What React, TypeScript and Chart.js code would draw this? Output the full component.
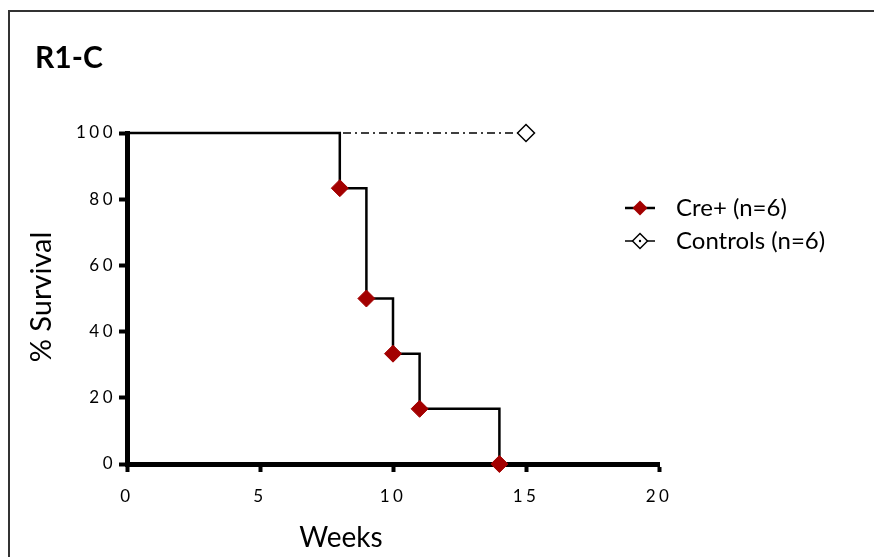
import React, { useEffect, useRef } from 'react';
import { Chart, registerables } from 'chart.js';

Chart.register(...registerables);

const chartTitle = 'R1-C';
const xTitle = 'Weeks';
const yTitle = '% Survival';
const seriesNames = ['Cre+ (n=6)', 'Controls (n=6)'];
const creWeeks = [0, 8, 9, 10, 11, 14];
const creSurvival = [100, 83.33, 50, 33.33, 16.67, 0];
const ctrlWeeks = [0, 15];
const ctrlSurvival = [100, 100];
const xTickValues = [0, 5, 10, 15, 20];
const yTickValues = [0, 20, 40, 60, 80, 100];

const RED = '#A30000';
const FONT = 'Lato, "Open Sans", sans-serif';

export default function App() {
  const ref = useRef<HTMLCanvasElement | null>(null);

  useEffect(() => {
    document.body.style.margin = '0';
    document.body.style.overflow = 'hidden';
    const canvas = ref.current;
    if (!canvas) return;

    const textPlugin = {
      id: 'customText',
      beforeDraw(chart: any) {
        (chart.ctx as any).letterSpacing = '3.5px';
      },
      afterDraw(chart: any) {
        const ctx = chart.ctx as CanvasRenderingContext2D;
        ctx.save();
        (ctx as any).letterSpacing = '0px';
        // frame
        ctx.strokeStyle = '#333';
        ctx.lineWidth = 2;
        ctx.strokeRect(9, 11, 1000, 1000);
        // title
        ctx.fillStyle = '#000';
        ctx.font = `bold 30px ${FONT}`;
        ctx.textAlign = 'left';
        ctx.textBaseline = 'alphabetic';
        ctx.fillText(chartTitle, 35, 68);
        // axis titles
        ctx.font = `28px ${FONT}`;
        ctx.textAlign = 'center';
        ctx.textBaseline = 'middle';
        ctx.fillText(xTitle, 341, 538);
        ctx.save();
        ctx.translate(42, 297);
        ctx.rotate(-Math.PI / 2);
        ctx.font = `29px ${FONT}`;
        ctx.fillText(yTitle, 0, 0);
        ctx.restore();
        // legend
        const rows = [208, 241];
        const lx1 = 625, lx2 = 655, mx = 640, r = 7.5;
        // Cre+
        ctx.strokeStyle = '#000';
        ctx.lineWidth = 2.5;
        ctx.beginPath();
        ctx.moveTo(lx1, rows[0]);
        ctx.lineTo(lx2, rows[0]);
        ctx.stroke();
        ctx.fillStyle = RED;
        ctx.beginPath();
        ctx.moveTo(mx - r, rows[0]);
        ctx.lineTo(mx, rows[0] - r);
        ctx.lineTo(mx + r, rows[0]);
        ctx.lineTo(mx, rows[0] + r);
        ctx.closePath();
        ctx.fill();
        // Controls
        ctx.lineWidth = 1.5;
        ctx.beginPath();
        ctx.moveTo(lx1, rows[1]);
        ctx.lineTo(lx2, rows[1]);
        ctx.stroke();
        ctx.fillStyle = '#fff';
        ctx.beginPath();
        ctx.moveTo(mx - r, rows[1]);
        ctx.lineTo(mx, rows[1] - r);
        ctx.lineTo(mx + r, rows[1]);
        ctx.lineTo(mx, rows[1] + r);
        ctx.closePath();
        ctx.fill();
        ctx.stroke();
        ctx.fillStyle = '#000';
        ctx.beginPath();
        ctx.arc(mx, rows[1], 1.2, 0, Math.PI * 2);
        ctx.fill();
        // legend text
        ctx.font = `24px ${FONT}`;
        ctx.textAlign = 'left';
        ctx.textBaseline = 'middle';
        ctx.fillText(seriesNames[0], 676, rows[0]);
        ctx.fillText(seriesNames[1], 676, rows[1]);
        ctx.restore();
      },
    };

    const chart = new Chart(canvas, {
      type: 'line',
      data: {
        datasets: [
          {
            label: seriesNames[0],
            data: creWeeks.map((x, i) => ({ x, y: creSurvival[i] })),
            borderColor: '#000',
            borderWidth: 2.5,
            stepped: 'before',
            pointStyle: 'rectRot',
            pointRadius: creWeeks.map((_, i) => (i === 0 ? 0 : 8.5)),
            pointHoverRadius: creWeeks.map((_, i) => (i === 0 ? 0 : 8.5)),
            pointBackgroundColor: RED,
            pointBorderColor: RED,
            pointBorderWidth: 1,
            clip: false,
          } as any,
          {
            label: seriesNames[1],
            data: ctrlWeeks.map((x, i) => ({ x, y: ctrlSurvival[i] })),
            borderColor: '#000',
            borderWidth: 1.5,
            borderDash: [8, 4, 2, 4],
            pointStyle: 'rectRot',
            pointRadius: ctrlWeeks.map((_, i) => (i === 0 ? 0 : 8.5)),
            pointHoverRadius: ctrlWeeks.map((_, i) => (i === 0 ? 0 : 8.5)),
            pointBackgroundColor: '#fff',
            pointBorderColor: '#000',
            pointBorderWidth: 1.5,
            clip: false,
          } as any,
        ],
      },
      options: {
        responsive: false,
        animation: false,
        events: [],
        layout: { padding: { left: 0, right: 215, top: 133, bottom: 0 } },
        plugins: {
          legend: { display: false },
          title: { display: false },
          tooltip: { enabled: false },
        },
        scales: {
          x: {
            type: 'linear',
            min: 0,
            max: 20,
            afterBuildTicks: (s: any) => {
              s.ticks = xTickValues.map((v) => ({ value: v }));
            },
            afterFit: (s: any) => {
              s.height = 93;
            },
            ticks: {
              color: '#000',
              font: { family: FONT, size: 17 },
              padding: 14,
              maxRotation: 0,
            },
            grid: {
              drawOnChartArea: false,
              drawTicks: true,
              tickLength: 8,
              tickWidth: 4,
              color: '#000',
            },
            border: { display: true, width: 5, color: '#000' },
          },
          y: {
            type: 'linear',
            min: 0,
            max: 100,
            afterBuildTicks: (s: any) => {
              s.ticks = yTickValues.map((v) => ({ value: v }));
            },
            afterFit: (s: any) => {
              s.width = 127;
            },
            ticks: {
              color: '#000',
              font: { family: FONT, size: 17 },
              padding: 3,
            },
            grid: {
              drawOnChartArea: false,
              drawTicks: true,
              tickLength: 8,
              tickWidth: 4,
              color: '#000',
            },
            border: { display: true, width: 5, color: '#000' },
          },
        },
      } as any,
      plugins: [textPlugin],
    });

    return () => chart.destroy();
  }, []);

  return (
    <div style={{ width: 874, height: 557, background: '#fff' }}>
      <canvas ref={ref} width={874} height={557} style={{ display: 'block' }} />
    </div>
  );
}
